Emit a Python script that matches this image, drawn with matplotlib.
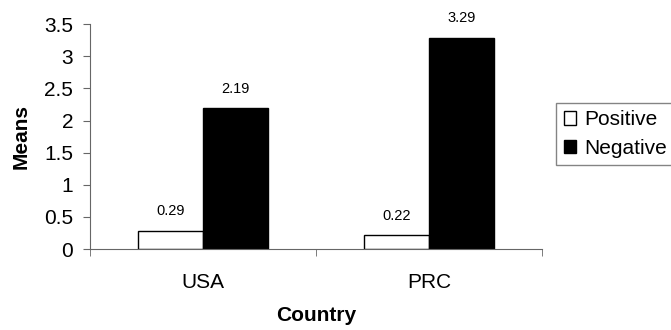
import matplotlib.pyplot as plt
import numpy as np

plt.rcParams['font.family'] = ['Liberation Sans', 'DejaVu Sans']

countries = ['USA', 'PRC']
positive = [0.29, 0.22]
negative = [2.19, 3.29]
yticks = [0, 0.5, 1, 1.5, 2, 2.5, 3, 3.5]
ytick_labels = ['0', '0.5', '1', '1.5', '2', '2.5', '3', '3.5']

fig = plt.figure(figsize=(6.71, 3.30), dpi=100)
ax = fig.add_axes([0.134, 0.245, 0.674, 0.682])

x = np.arange(len(countries))
w = 0.288
b1 = ax.bar(x - w / 2, positive, w, color='white', edgecolor='black', linewidth=1, label='Positive')
b2 = ax.bar(x + w / 2, negative, w, color='black', edgecolor='black', linewidth=1, label='Negative')

for bars, vals in [(b1, positive), (b2, negative)]:
    for r, v in zip(bars, vals):
        ax.annotate('%.2f' % v, (r.get_x() + r.get_width() / 2, v), xytext=(0, 9),
                    textcoords='offset points', ha='center', va='bottom', fontsize=10.5)

ax.set_xlim(-0.5, 1.5)
ax.set_ylim(0, 3.5)
ax.set_yticks(yticks)
ax.set_yticklabels(ytick_labels, fontsize=15)
ax.set_xticks(x)
ax.set_xticklabels(countries, fontsize=15)
ax.set_xticks([-0.5, 0.5, 1.5], minor=True)
ax.tick_params(axis='x', which='major', length=0, pad=17)
ax.tick_params(axis='x', which='minor', length=5, direction='out', color='#666666')
ax.tick_params(axis='y', length=5, direction='out', color='#666666', pad=7)

for s in ['top', 'right']:
    ax.spines[s].set_visible(False)
ax.spines['left'].set_color('#666666')
ax.spines['bottom'].set_color('#666666')

ax.set_ylabel('Means', fontsize=15, fontweight='bold', labelpad=10)
ax.set_xlabel('Country', fontsize=15, fontweight='bold', labelpad=10)

leg = fig.legend(handles=[b1, b2], loc='upper left', bbox_to_anchor=(0.829, 0.688),
                 fontsize=15, frameon=True, fancybox=False, handlelength=0.6,
                 handleheight=0.6, handletextpad=0.4, borderpad=0.35, labelspacing=0.45,
                 borderaxespad=0)
leg.get_frame().set_edgecolor('#666666')
leg.get_frame().set_linewidth(1)

fig.savefig('out.png', dpi=100)
